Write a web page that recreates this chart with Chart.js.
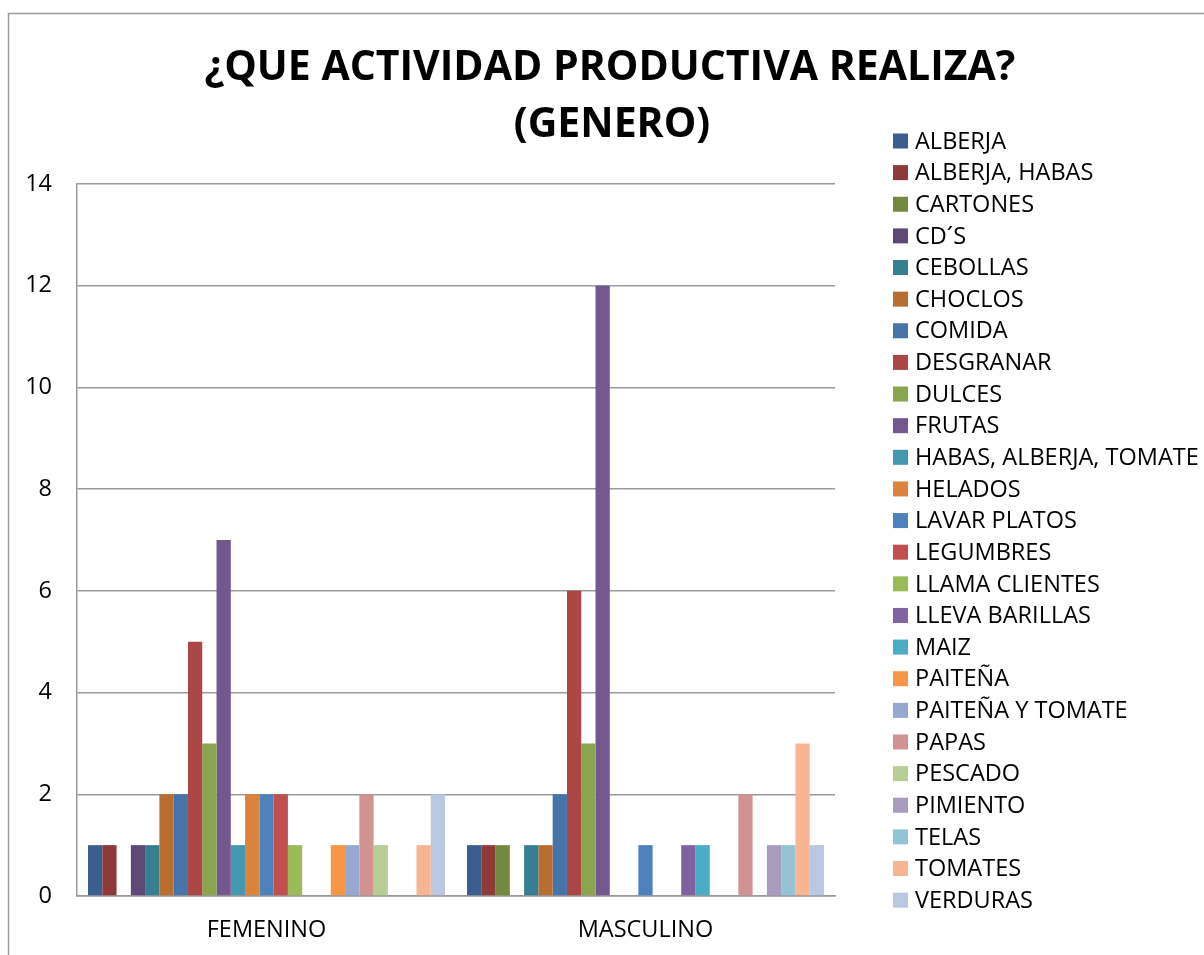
<!DOCTYPE html>
<html lang="es">
<head>
    <meta charset="UTF-8">
    <title>¿QUE ACTIVIDAD PRODUCTIVA REALIZA? (GENERO)</title>
    <script src="https://cdn.jsdelivr.net/npm/chart.js"></script>
    <style>
        body, html {
            margin: 0;
            padding: 0;
            background: #ffffff;
            overflow: hidden;
        }
        .chart-box {
            position: relative;
            width: 1204px;
            height: 955px;
        }
    </style>
</head>
<body>
    <div class="chart-box">
        <canvas id="genderChart" width="1204" height="955"></canvas>
    </div>

    <script>
        // Data
        const categories = ['FEMENINO', 'MASCULINO'];
        const activities = [
            'ALBERJA', 'ALBERJA, HABAS', 'CARTONES', 'CD´S', 'CEBOLLAS', 'CHOCLOS', 'COMIDA',
            'DESGRANAR', 'DULCES', 'FRUTAS', 'HABAS, ALBERJA, TOMATE', 'HELADOS', 'LAVAR PLATOS',
            'LEGUMBRES', 'LLAMA CLIENTES', 'LLEVA BARILLAS', 'MAIZ', 'PAITEÑA', 'PAITEÑA Y TOMATE',
            'PAPAS', 'PESCADO', 'PIMIENTO', 'TELAS', 'TOMATES', 'VERDURAS'
        ];
        const femenino  = [1, 1, null, 1, 1, 2, 2, 5, 3, 7, 1, 2, 2, 2, 1, null, null, 1, 1, 2, 1, null, null, 1, 2];
        const masculino = [1, 1, 1, null, 1, 1, 2, 6, 3, 12, null, null, 1, null, null, 1, 1, null, null, 2, null, 1, 1, 3, 1];
        const colors = [
            '#3B5E8E', '#8E3A38', '#738A3E', '#5D4877', '#367F92', '#B86E31', '#4673A8',
            '#AB4744', '#8AA54E', '#72588E', '#4299B0', '#DA833D', '#4F81BD',
            '#C0504D', '#9BBB59', '#8064A2', '#4BACC6', '#F79646', '#95A8D0',
            '#D19391', '#B8CD96', '#A99BBE', '#93C4D5', '#F8B591', '#BAC7E1'
        ];
        const yTicks = [0, 2, 4, 6, 8, 10, 12, 14];
        const titleLines = ['¿QUE ACTIVIDAD PRODUCTIVA REALIZA?', '(GENERO)'];

        const FONT = "'Open Sans', sans-serif";

        // border, title and legend drawn by hand to match the Excel layout
        const excelDecor = {
            id: 'excelDecor',
            beforeDraw(chart) {
                const ctx = chart.ctx;
                ctx.save();
                ctx.strokeStyle = '#9a9a9a';
                ctx.lineWidth = 1.5;
                ctx.beginPath();
                ctx.moveTo(8.5, 960);
                ctx.lineTo(8.5, 13.5);
                ctx.lineTo(1210, 13.5);
                ctx.stroke();
                ctx.restore();
            },
            afterDraw(chart) {
                const ctx = chart.ctx;
                ctx.save();
                ctx.fillStyle = '#000';
                ctx.textAlign = 'center';
                ctx.textBaseline = 'middle';
                ctx.font = 'bold 41px ' + FONT;
                ctx.fillText(titleLines[0], 610, 68);
                ctx.fillText(titleLines[1], 612, 125);

                ctx.textAlign = 'left';
                ctx.font = '23.5px ' + FONT;
                chart.data.datasets.forEach(function(ds, i) {
                    const y = 141 + i * 31.63;
                    ctx.fillStyle = ds.backgroundColor;
                    ctx.fillRect(893, y - 7.5, 15, 15);
                    ctx.fillStyle = '#000';
                    ctx.fillText(ds.label, 915, y + 1);
                });
                ctx.restore();
            }
        };

        const datasets = activities.map(function(name, i) {
            return {
                label: name,
                data: [femenino[i], masculino[i]],
                backgroundColor: colors[i],
                borderWidth: 0,
                categoryPercentage: 0.942,
                barPercentage: 1.0
            };
        });

        const ctx = document.getElementById('genderChart').getContext('2d');
        const genderChart = new Chart(ctx, {
            type: 'bar',
            data: {
                labels: categories,
                datasets: datasets
            },
            options: {
                responsive: false,
                animation: false,
                devicePixelRatio: 1,
                layout: {
                    padding: { top: 184, right: 369, left: 0, bottom: 0 }
                },
                scales: {
                    x: {
                        grid: { display: false, drawTicks: false },
                        border: { color: '#9a9a9a', width: 1.5 },
                        ticks: {
                            color: '#000',
                            padding: 20,
                            font: { family: FONT, size: 23.5 }
                        },
                        afterFit: function(scale) { scale.height = 59; }
                    },
                    y: {
                        min: 0,
                        max: 14,
                        afterBuildTicks: function(scale) {
                            scale.ticks = yTicks.map(function(v) { return { value: v }; });
                        },
                        grid: { color: '#9a9a9a', lineWidth: 1.5, drawTicks: false },
                        border: { color: '#9a9a9a', width: 1.5 },
                        ticks: {
                            color: '#000',
                            padding: 25,
                            font: { family: FONT, size: 23.5 }
                        },
                        afterFit: function(scale) { scale.width = 77; }
                    }
                },
                plugins: {
                    legend: { display: false },
                    title: { display: false },
                    tooltip: { enabled: false }
                }
            },
            plugins: [excelDecor]
        });
    </script>
</body>
</html>
